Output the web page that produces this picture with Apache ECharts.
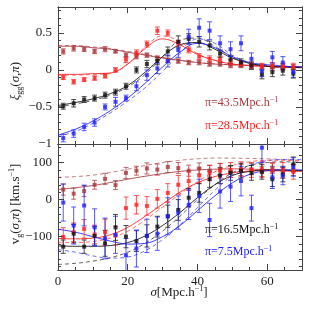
<!DOCTYPE html>
<html><head><meta charset="utf-8">
<script src="https://cdn.jsdelivr.net/npm/echarts@6/dist/echarts.min.js"></script>
<style>html,body{margin:0;padding:0;background:#fff}#c{width:319px;height:319px}</style>
</head><body><div id="c"></div>
<script>
// ---------- data ----------
const sigmaBins = [1.5,4.5,7.5,10.5,13.5,16.5,19.5,22.5,25.5,28.5,31.5,34.5,37.5,40.5,43.5,46.5,49.5,52.5,55.5,58.5,61.5,64.5,67.5];
const modelSigma = [0,5,10,15,20,25,30,35,40,45,50,55,60,65,70];

// top panel: xi_gg(sigma, pi)
const xiDarkRed = [0.25,0.29,0.28,0.25,0.28,0.25,0.20,0.18,0.20,0.16,0.13,0.12,0.10,0.10,0.08,0.08,0.06,0.06,0.04,0.05,0.03,0.04,0.03];
const xiRed     = [-0.10,-0.16,-0.13,-0.11,-0.08,0.00,0.14,0.23,0.35,0.53,0.50,0.36,0.27,0.18,0.15,0.14,0.10,0.08,0.06,0.05,0.06,0.05,0.05];
const xiBlack   = [-0.49,-0.45,-0.40,-0.38,-0.34,-0.30,-0.22,0.00,0.08,0.12,0.25,0.38,0.42,0.38,0.33,0.22,0.14,0.10,0.06,-0.06,-0.03,-0.01,-0.05];
const xiBlue    = [-0.92,-0.86,-0.77,-0.71,-0.50,-0.43,-0.38,-0.22,-0.07,0.02,0.12,0.27,0.45,0.57,0.53,0.36,0.28,0.36,0.15,-0.02,0.17,0.10,-0.03];
const xiErrDarkRed = [0.035,0.035,0.03,0.03,0.035,0.02,0.03,0.03,0.03,0.03,0.03,0.03,0.03,0.03,0.03,0.03,0.03,0.03,0.03,0.03,0.04,0.04,0.04];
const xiErrRed     = [0.03,0.03,0.025,0.03,0.03,0.03,0.04,0.04,0.04,0.05,0.04,0.04,0.04,0.04,0.04,0.04,0.04,0.04,0.04,0.04,0.04,0.04,0.04];
const xiErrBlack   = [0.04,0.05,0.04,0.04,0.04,0.04,0.04,0.04,0.05,0.05,0.06,0.08,0.07,0.07,0.06,0.05,0.05,0.05,0.05,0.06,0.06,0.06,0.06];
const xiErrBlue    = [0.05,0.05,0.05,0.05,0.04,0.06,0.04,0.06,0.07,0.07,0.08,0.10,0.10,0.12,0.12,0.10,0.10,0.10,0.08,0.07,0.08,0.08,0.07];
const xiModelDarkRed = [0.32,0.32,0.30,0.28,0.24,0.20,0.16,0.13,0.10,0.08,0.07,0.06,0.05,0.04,0.04];
const xiModelDarkRedDash = [0.33,0.33,0.31,0.29,0.25,0.21,0.17,0.13,0.10,0.08,0.07,0.06,0.05,0.04,0.04];
const xiModelRed = [-0.06,-0.06,-0.05,-0.04,0.08,0.29,0.42,0.34,0.21,0.13,0.08,0.06,0.05,0.04,0.04];
const xiModelRedDash = [-0.07,-0.07,-0.06,-0.05,0.08,0.31,0.46,0.38,0.22,0.13,0.08,0.06,0.05,0.04,0.04];
const xiModelBlack = [-0.48,-0.44,-0.39,-0.32,-0.21,-0.03,0.18,0.34,0.37,0.28,0.16,0.09,0.05,0.04,0.03];
const xiModelBlackDash = [-0.50,-0.46,-0.41,-0.34,-0.23,-0.06,0.18,0.40,0.43,0.32,0.17,0.09,0.05,0.04,0.03];
const xiModelBlue = [-0.88,-0.80,-0.69,-0.55,-0.38,-0.18,0.04,0.24,0.36,0.30,0.18,0.10,0.07,0.05,0.04];
const xiModelBlueDash = [-0.90,-0.83,-0.72,-0.58,-0.42,-0.24,-0.02,0.22,0.42,0.36,0.20,0.10,0.06,0.05,0.04];

// bottom panel: v_g(sigma, pi) [km/s]
const vDarkRed = [27,16,23,40,56,39,72,78,84,81,88,85,78,84,78,82,75,80,82,75,85,72,80];
const vRed     = [-101,-88,-79,-94,-88,-97,-23,-14,-17,2,18,40,50,65,72,78,80,82,80,82,78,80,75];
const vBlack   = [-127,-92,-127,-98,-118,-75,-100,-112,-98,-73,-45,-28,5,18,55,65,72,78,72,75,55,68,95];
const vBlue    = [-8,-70,-16,-75,-105,-95,-150,-132,-98,-92,-45,-35,-14,10,-55,22,35,50,-23,140,60,65,88];
const vErrDarkRed = [15,15,15,12,15,12,15,12,15,15,15,15,15,15,15,15,15,15,15,15,15,15,15];
const vErrRed     = [25,25,25,25,35,25,30,25,25,25,25,25,25,20,20,20,20,20,20,20,20,20,20];
const vErrBlack   = [18,25,18,25,35,35,30,28,30,28,30,28,25,25,22,22,20,20,20,20,20,20,20];
const vErrBlue    = [50,50,55,50,55,50,45,50,45,45,50,45,40,45,45,45,40,40,35,40,30,25,25];
const vModelDarkRed = [27,32,38,46,55,63,70,76,80,82,83,82,81,80,79];
const vModelDarkRedDash = [60,62,66,73,82,92,100,106,110,112,112,111,110,108,106];
const vModelRed = [-105,-106,-104,-95,-75,-45,-12,20,45,62,72,77,78,77,76];
const vModelRedDash = [-115,-116,-113,-104,-85,-55,-20,15,48,75,92,102,106,106,104];
const vModelBlack = [-125,-126,-126,-124,-116,-98,-70,-35,5,40,65,76,80,79,78];
const vModelBlackDash = [-175,-172,-166,-157,-142,-118,-85,-45,0,40,72,92,100,102,100];
const vModelBlue = [-80,-88,-100,-112,-120,-118,-100,-70,-30,10,45,68,78,80,80];
const vModelBlueDash = [-135,-142,-152,-158,-155,-138,-108,-68,-22,25,65,92,105,108,108];

// ticks
const xLabelTicks = [0,20,40,60];
const xMajorTicks = [20,40,60];
const xMinorTicks = [5,10,15,25,30,35,45,50,55,65];
const xiLabelTicks = [-1,-0.5,0,0.5];
const xiMajorTicks = [-0.5,0,0.5];
const xiMinorTicks = [-0.9,-0.8,-0.7,-0.6,-0.4,-0.3,-0.2,-0.1,0.1,0.2,0.3,0.4,0.6,0.7,0.8];
const vLabelTicks = [-100,0,100];
const vMajorTicks = [-100,0,100];
const vMinorTicks = [-180,-160,-140,-120,-80,-60,-40,-20,20,40,60,80,120,140];

const piLabels = ['π=43.5Mpc.h', 'π=28.5Mpc.h', 'π=16.5Mpc.h', 'π=7.5Mpc.h'];

// ---------- styling / building ----------
const FONT = 'Liberation Serif, DejaVu Serif, serif';
const C = {darkred:'#a8383c', red:'#ff1f1f', black:'#111111', blue:'#2020ff'};
const AX = '#444';
const fmt = v => (v < 0 ? '\u2212' + Math.abs(v) : String(v));

function mkAxis(dim, grid, pos, min, max, ticks, len, labels) {
  return {
    type:'value', gridIndex:grid, position:pos, min:min, max:max,
    axisLine:{show:true, onZero:false, lineStyle:{color:AX, width:1}},
    axisTick:{show:true, inside:true, length:len, customValues:ticks, lineStyle:{color:AX, width:1}},
    axisLabel: labels ? {show:true, customValues:labels, margin: dim==='x'?5:6, fontSize:13,
      fontFamily:FONT, color:'#222', formatter:fmt} : {show:false},
    splitLine:{show:false}, minorTick:{show:false}, minorSplitLine:{show:false}
  };
}

const xAxes = [], yAxes = [];
[0,1].forEach(g => {
  xAxes.push(mkAxis('x', g, 'bottom', 0, 70, xMajorTicks, 6, g===1 ? xLabelTicks : null));
  xAxes.push(mkAxis('x', g, 'bottom', 0, 70, xMinorTicks, 3, null));
  xAxes.push(mkAxis('x', g, 'top', 0, 70, xMajorTicks, 6, null));
  xAxes.push(mkAxis('x', g, 'top', 0, 70, xMinorTicks, 3, null));
  const ymin = g===0 ? -1 : -190, ymax = g===0 ? 0.85 : 150;
  const maj = g===0 ? xiMajorTicks : vMajorTicks, mnr = g===0 ? xiMinorTicks : vMinorTicks;
  const lab = g===0 ? xiLabelTicks : vLabelTicks;
  yAxes.push(mkAxis('y', g, 'left', ymin, ymax, maj, 6, lab));
  yAxes.push(mkAxis('y', g, 'left', ymin, ymax, mnr, 3, null));
  yAxes.push(mkAxis('y', g, 'right', ymin, ymax, maj, 6, null));
  yAxes.push(mkAxis('y', g, 'right', ymin, ymax, mnr, 3, null));
});

function errRender(params, api) {
  const x = api.value(0), y = api.value(1), e = api.value(2);
  const hi = api.coord([x, y + e]), lo = api.coord([x, y - e]);
  const w = 2.5;
  const style = {stroke: api.visual('color'), lineWidth: 1, opacity: 0.75};
  return {type:'group', children:[
    {type:'line', shape:{x1:hi[0], y1:hi[1], x2:lo[0], y2:lo[1]}, style:style},
    {type:'line', shape:{x1:hi[0]-w, y1:hi[1], x2:hi[0]+w, y2:hi[1]}, style:style},
    {type:'line', shape:{x1:lo[0]-w, y1:lo[1], x2:lo[0]+w, y2:lo[1]}, style:style}
  ]};
}

const panels = [
  {grid:0, groups:[
    {c:C.darkred, pts:xiDarkRed, err:xiErrDarkRed, solid:xiModelDarkRed, dash:xiModelDarkRedDash},
    {c:C.red, pts:xiRed, err:xiErrRed, solid:xiModelRed, dash:xiModelRedDash},
    {c:C.black, pts:xiBlack, err:xiErrBlack, solid:xiModelBlack, dash:xiModelBlackDash},
    {c:C.blue, pts:xiBlue, err:xiErrBlue, solid:xiModelBlue, dash:xiModelBlueDash}
  ]},
  {grid:1, groups:[
    {c:C.darkred, pts:vDarkRed, err:vErrDarkRed, solid:vModelDarkRed, dash:vModelDarkRedDash},
    {c:C.red, pts:vRed, err:vErrRed, solid:vModelRed, dash:vModelRedDash},
    {c:C.black, pts:vBlack, err:vErrBlack, solid:vModelBlack, dash:vModelBlackDash},
    {c:C.blue, pts:vBlue, err:vErrBlue, solid:vModelBlue, dash:vModelBlueDash}
  ]}
];

const series = [];
panels.forEach(p => {
  const xi = p.grid * 4, yi = p.grid * 4;
  p.groups.forEach(g => {
    series.push({type:'line', xAxisIndex:xi, yAxisIndex:yi, smooth:0.4, showSymbol:false, silent:true,
      data: modelSigma.map((s,i)=>[s, g.dash[i]]), lineStyle:{color:g.c, width:1, type:[4,3], opacity:0.65}, z:2});
    series.push({type:'line', xAxisIndex:xi, yAxisIndex:yi, smooth:0.4, showSymbol:false, silent:true,
      data: modelSigma.map((s,i)=>[s, g.solid[i]]), lineStyle:{color:g.c, width:1, opacity:0.85}, z:3});
  });
  p.groups.forEach(g => {
    series.push({type:'custom', xAxisIndex:xi, yAxisIndex:yi, renderItem:errRender, clip:true, silent:true,
      itemStyle:{color:g.c}, data: sigmaBins.map((s,i)=>[s, g.pts[i], g.err[i]]), z:4});
    series.push({type:'scatter', xAxisIndex:xi, yAxisIndex:yi, symbol:'rect', symbolSize:4, silent:true,
      itemStyle:{color:g.c}, data: sigmaBins.map((s,i)=>[s, g.pts[i]]), z:5});
  });
});

const rich = {
  m:{fontSize:13, fontFamily:FONT, fill:'#222', lineHeight:16},
  i:{fontSize:13, fontFamily:FONT, fontStyle:'italic', fill:'#222', lineHeight:16},
  s:{fontSize:8, fontFamily:FONT, fill:'#222', lineHeight:8, verticalAlign:'bottom'},
  p:{fontSize:8, fontFamily:FONT, fill:'#222', lineHeight:8, verticalAlign:'top'}
};
function annot(x, y, txt, color) {
  return {type:'text', x:x, y:y, silent:true, style:{
    text:'{m|' + txt + '}{p|\u22121}', align:'left', verticalAlign:'middle', fill:color,
    rich:{m:{fontSize:12, fontFamily:FONT, fill:color, lineHeight:15},
          p:{fontSize:8, fontFamily:FONT, fill:color, lineHeight:8, verticalAlign:'top'}}}};
}

const option = {
  animation:false,
  backgroundColor:'#fff',
  grid:[
    {left:58, right:17, top:7, height:137, outerBoundsMode:'none'},
    {left:58, right:17, top:144, height:126, outerBoundsMode:'none'}
  ],
  xAxis:xAxes, yAxis:yAxes, series:series,
  graphic:[
    annot(205, 103, piLabels[0], C.darkred),
    annot(205, 126, piLabels[1], C.red),
    annot(205, 230, piLabels[2], C.black),
    annot(205, 252, piLabels[3], C.blue),
    {type:'text', x:16, y:81, rotation:Math.PI/2, silent:true, style:{
      text:'{i|ξ}{s|gg}{m|(}{i|σ}{m|,}{i|π}{m|)}', align:'center', verticalAlign:'middle', fill:'#222', rich:rich}},
    {type:'text', x:16, y:204, rotation:Math.PI/2, silent:true, style:{
      text:'{m|v}{s|g}{m|(}{i|σ}{m|,}{i|π}{m|) [km.s}{p|\u22121}{m|]}', align:'center', verticalAlign:'middle', fill:'#222', rich:rich}},
    {type:'text', x:179, y:293, silent:true, style:{
      text:'{i|σ}{m|[Mpc.h}{p|\u22121}{m|]}', align:'center', verticalAlign:'middle', fill:'#222', rich:rich}}
  ]
};

const chart = echarts.init(document.getElementById('c'), null, {renderer:'canvas'});
chart.setOption(option);
</script></body></html>
